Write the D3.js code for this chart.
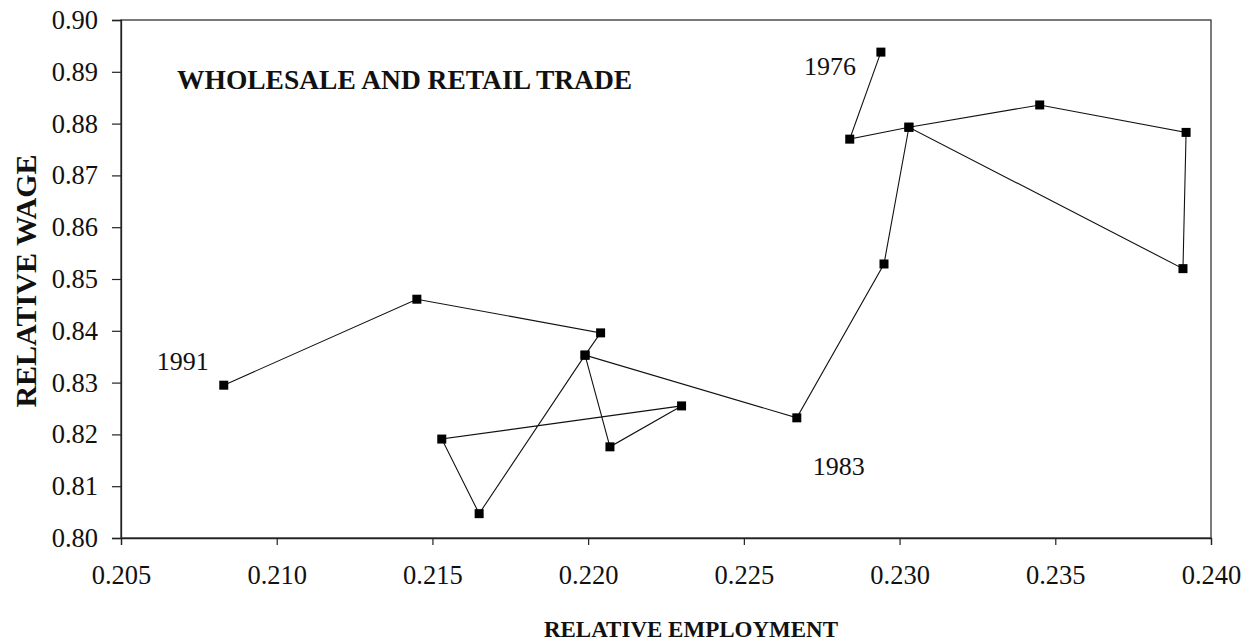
<!DOCTYPE html>
<html lang="en">
    <head>
        <meta charset="utf-8">
        <title>Wholesale and retail trade</title>
        <script type="text/javascript" src="https://cdnjs.cloudflare.com/ajax/libs/d3/7.8.5/d3.min.js"></script>
        <style type="text/css">
            body { margin: 0; background: #fff; }
            text { font-family: "Liberation Serif", "Times New Roman", serif; fill: #111; }
        </style>
    </head>
    <body>
        <script type="text/javascript">
            // path of the series, in drawing order (some points are revisited)
            var relEmployment = [0.2294, 0.2284, 0.2303, 0.2345, 0.2392, 0.2391, 0.2303, 0.2295, 0.2267,
                                 0.2199, 0.2207, 0.2230, 0.2153, 0.2165, 0.2199, 0.2204, 0.2145, 0.2083];
            var relWage = [0.8938, 0.8770, 0.8793, 0.8836, 0.8783, 0.8520, 0.8793, 0.8529, 0.8232,
                           0.8353, 0.8176, 0.8255, 0.8191, 0.8047, 0.8353, 0.8396, 0.8461, 0.8295];
            var yearLabels = ["1976", "1983", "1991"];
            var yearIndex = [0, 8, 17];

            var xTicks = [0.205, 0.210, 0.215, 0.220, 0.225, 0.230, 0.235, 0.240];
            var yTicks = [0.80, 0.81, 0.82, 0.83, 0.84, 0.85, 0.86, 0.87, 0.88, 0.89, 0.90];

            var w = 1258;
            var h = 644;
            var m = { left: 121, right: 1211, top: 20, bottom: 538 };

            var svg = d3.select("body")
                        .append("svg")
                        .attr("width", w)
                        .attr("height", h);

            var x = d3.scaleLinear().domain([0.205, 0.240]).range([m.left, m.right]);
            var y = d3.scaleLinear().domain([0.80, 0.90]).range([m.bottom, m.top]);

            // frame
            svg.append("rect")
               .attr("x", m.left)
               .attr("y", m.top)
               .attr("width", m.right - m.left)
               .attr("height", m.bottom - m.top)
               .attr("fill", "none")
               .attr("stroke", "#333")
               .attr("stroke-width", 1.3);

            svg.append("g")
               .attr("transform", "translate(" + m.left + ",0)")
               .call(d3.axisLeft(y).tickValues(yTicks).tickSize(9).tickPadding(14)
                       .tickFormat(d3.format(".2f")));

            svg.append("g")
               .attr("transform", "translate(0," + m.bottom + ")")
               .call(d3.axisBottom(x).tickValues(xTicks).tickSize(7).tickPadding(20)
                       .tickFormat(d3.format(".3f")));

            svg.selectAll(".domain").attr("stroke", "#222").attr("stroke-width", 1.3);
            svg.selectAll(".tick line").attr("stroke", "#222").attr("stroke-width", 1.2);
            svg.selectAll(".tick text")
               .attr("font-family", "Liberation Serif")
               .attr("font-size", "26.5px")
               .attr("fill", "#111");

            // series line
            var pts = relEmployment.map(function(d, i) { return [d, relWage[i]]; });
            var line = d3.line()
                         .x(function(d) { return x(d[0]); })
                         .y(function(d) { return y(d[1]); });

            svg.append("path")
               .datum(pts)
               .attr("d", line)
               .attr("fill", "none")
               .attr("stroke", "#111")
               .attr("stroke-width", 1.1);

            svg.selectAll("rect.mark")
               .data(pts)
               .enter()
               .append("rect")
               .attr("class", "mark")
               .attr("x", function(d) { return x(d[0]) - 4.5; })
               .attr("y", function(d) { return y(d[1]) - 4.5; })
               .attr("width", 9)
               .attr("height", 9)
               .attr("fill", "#000");

            // year labels
            var offs = [[-25, 23, "end"], [16, 57, "start"], [-15, -15, "end"]];
            svg.selectAll("text.year")
               .data(yearLabels)
               .enter()
               .append("text")
               .attr("class", "year")
               .attr("x", function(d, i) { return x(relEmployment[yearIndex[i]]) + offs[i][0]; })
               .attr("y", function(d, i) { return y(relWage[yearIndex[i]]) + offs[i][1]; })
               .attr("text-anchor", function(d, i) { return offs[i][2]; })
               .attr("font-size", "26px")
               .text(function(d) { return d; });

            // titles
            svg.append("text")
               .attr("x", 177)
               .attr("y", 89)
               .attr("font-size", "27.5px")
               .attr("font-weight", "bold")
               .text("WHOLESALE AND RETAIL TRADE");

            svg.append("text")
               .attr("x", 691)
               .attr("y", 637)
               .attr("text-anchor", "middle")
               .attr("font-size", "23px")
               .attr("font-weight", "bold")
               .text("RELATIVE EMPLOYMENT");

            svg.append("text")
               .attr("transform", "translate(36,281) rotate(-90)")
               .attr("text-anchor", "middle")
               .attr("font-size", "30px")
               .attr("font-weight", "bold")
               .text("RELATIVE WAGE");
        </script>
    </body>
</html>
